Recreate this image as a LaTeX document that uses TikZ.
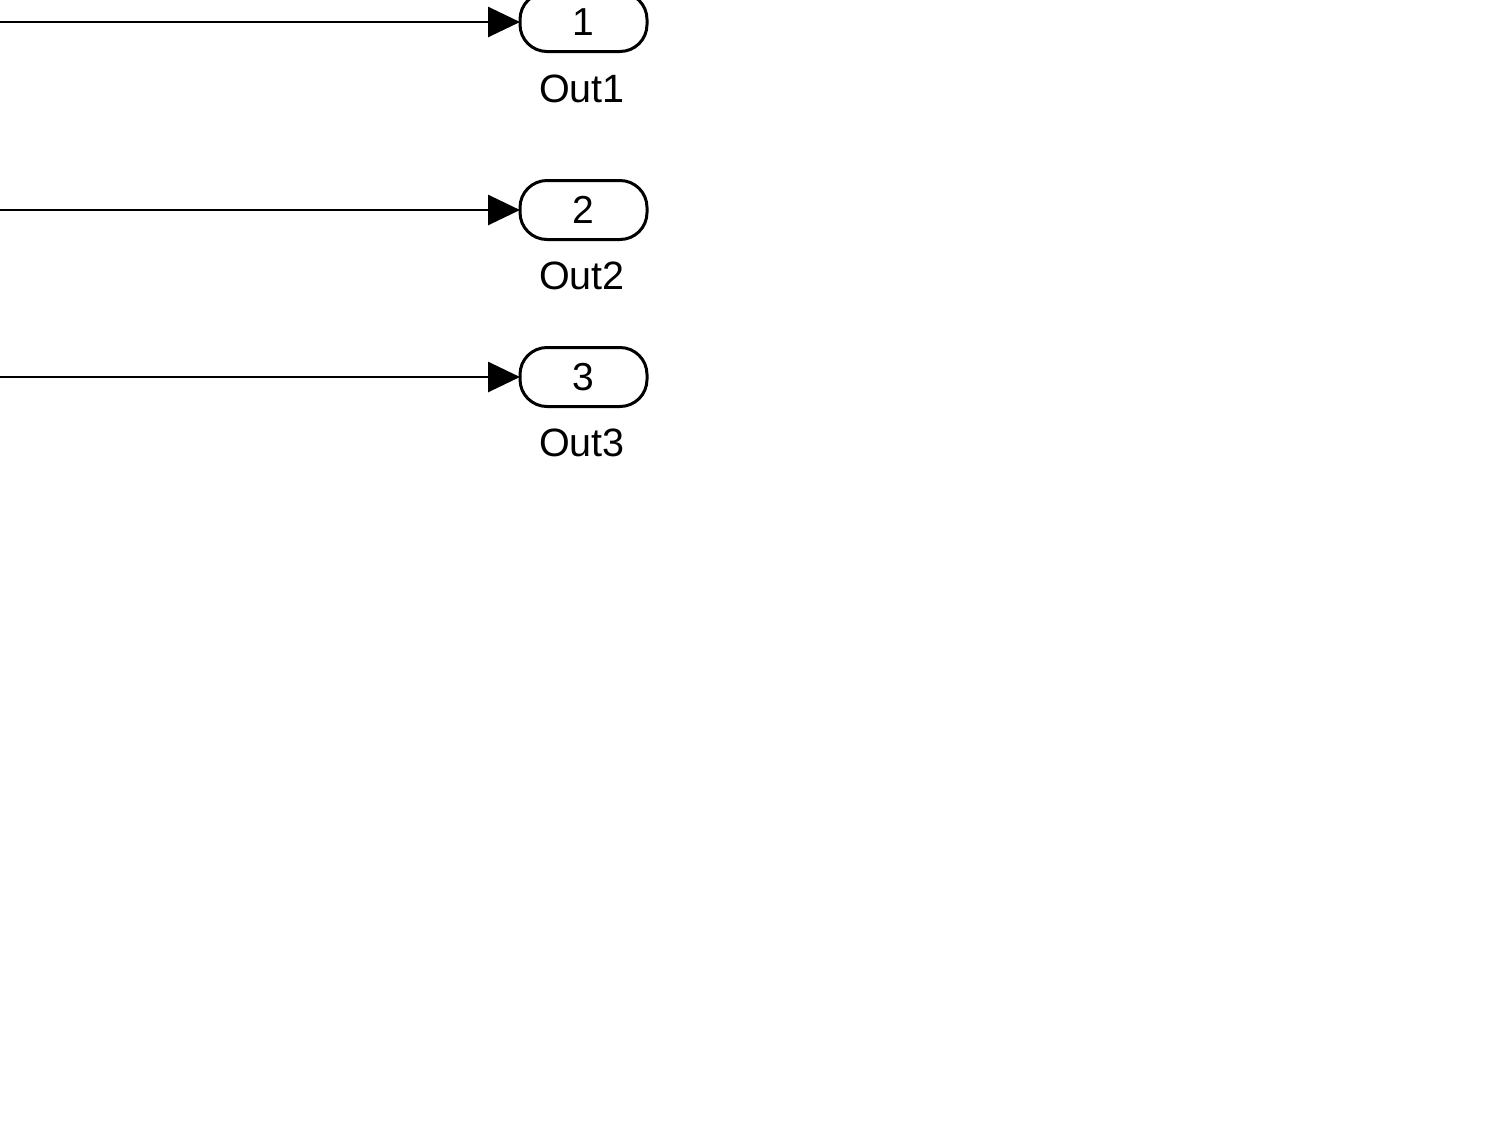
\documentclass[tikz,border=0pt]{standalone}
\usepackage{fontspec}
\setmainfont{Liberation Sans}
\usetikzlibrary{arrows.meta}
\begin{document}
\begin{tikzpicture}[x=1pt,y=-1pt,
  outport/.style={draw,line width=3pt,rounded corners=27pt,minimum width=127pt,minimum height=59pt,inner sep=0pt,font=\fontsize{39}{41}\selectfont,outer sep=0pt},
  lbl/.style={font=\fontsize{39.5}{41}\selectfont,inner sep=0pt},
  sig/.style={line width=2.8pt,-{Triangle[length=32pt,width=30pt]}}]
\useasboundingbox (0,0) rectangle (1503,1128);
\node[outport] (o1) at (583.5,22) {1};
\node[outport] (o2) at (583.5,210) {2};
\node[outport] (o3) at (583.5,377) {3};
\node[lbl] (l1) at (582,89) {Out1};
\node[lbl] (l2) at (582,276) {Out2};
\node[lbl] (l3) at (582,443) {Out3};
\coordinate (s1) at (0,22);
\coordinate (s2) at (0,210);
\coordinate (s3) at (0,377);
\draw[sig] (s1) -- (o1.west);
\draw[sig] (s2) -- (o2.west);
\draw[sig] (s3) -- (o3.west);
\end{tikzpicture}
\end{document}
